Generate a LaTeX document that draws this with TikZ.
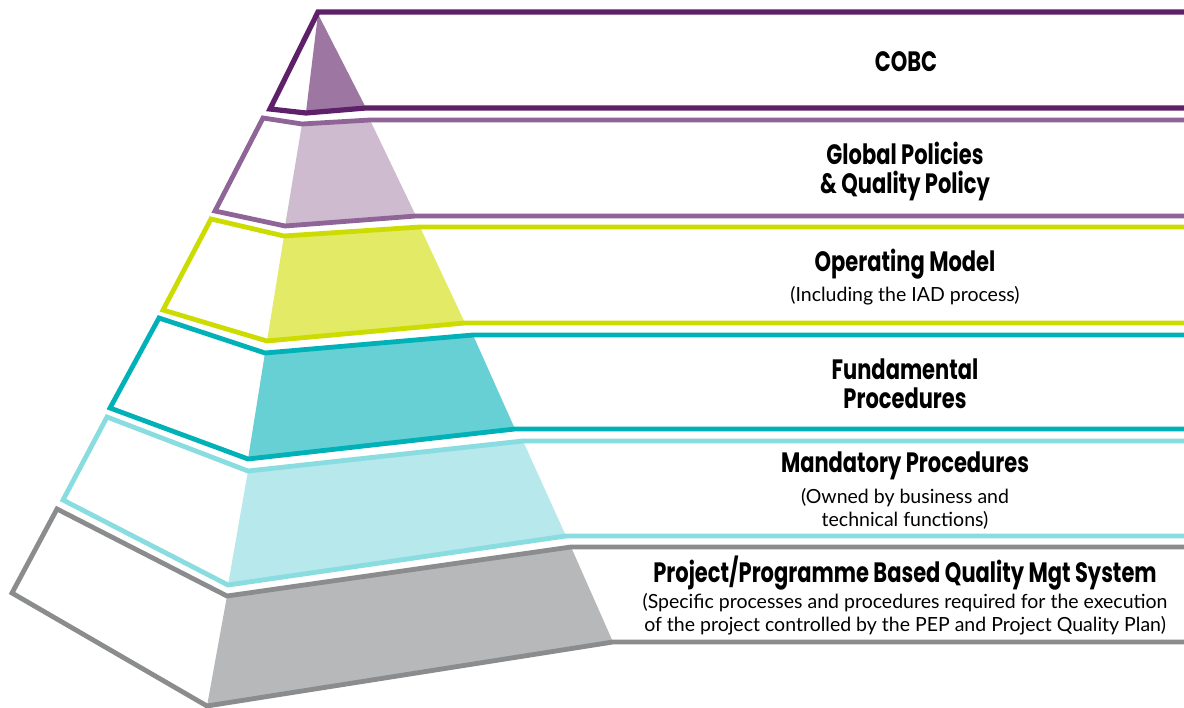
\documentclass[tikz,border=0pt]{standalone}
\usepackage{fontspec}
\setmainfont{Lato}
\newfontfamily\handfont{Poppins}[FakeStretch=0.75]
\definecolor{lnA}{HTML}{5E2068}\definecolor{flA}{HTML}{9D77A2}
\definecolor{lnB}{HTML}{8F6597}\definecolor{flB}{HTML}{CFBBD0}
\definecolor{lnC}{HTML}{CDDC00}\definecolor{flC}{HTML}{E2EA66}
\definecolor{lnD}{HTML}{00B1B8}\definecolor{flD}{HTML}{67D0D5}
\definecolor{lnE}{HTML}{89DCDF}\definecolor{flE}{HTML}{B7E8EB}
\definecolor{lnF}{HTML}{8B8C8E}\definecolor{flF}{HTML}{B7B8BA}
\tikzset{
  tier/.style={line width=4.8pt, line join=miter},
  title/.style={font=\handfont\bfseries\fontsize{28}{29}\selectfont, align=center, inner sep=0pt},
  sub/.style={font=\fontsize{19.5}{23}\selectfont, align=center, inner sep=0pt}
}
\begin{document}
\begin{tikzpicture}[x=1pt,y=-1pt]
\useasboundingbox (0,0) rectangle (1184,708);
\fill[white] (0,0) rectangle (1184,708);
% fills
\fill[flA] (318,14) -- (306,112) -- (366,108) -- cycle;
\fill[flB] (302,124) -- (370,120) -- (416,216) -- (285,226) -- cycle;
\fill[flC] (284,236) -- (420,227) -- (465,323) -- (267,341) -- cycle;
\fill[flD] (265,353) -- (473,335) -- (515,429) -- (248,459) -- cycle;
\fill[flE] (248,471) -- (523,441) -- (566,536) -- (228,585) -- cycle;
\fill[flF] (227,596) -- (571,547) -- (613,642) -- (207,706) -- cycle;
% outlines
\draw[tier, lnA, line width=5.2pt] (1190,12) -- (318,12) -- (270,109) -- (306,113) -- (366,108) -- (1190,108);
\draw[tier, lnB] (1190,120) -- (370,120) -- (302,124) -- (263,118) -- (215,211) -- (285,226) -- (416,216) -- (1190,216);
\draw[tier, lnC] (1190,227) -- (420,227) -- (284,236) -- (211,219) -- (163,310) -- (267,341) -- (465,323) -- (1190,323);
\draw[tier, lnD] (1190,335) -- (473,335) -- (265,353) -- (159,318) -- (110,408) -- (248,459) -- (515,429) -- (1190,429);
\draw[tier, lnE] (1190,441) -- (523,441) -- (248,471) -- (107,417) -- (63,500) -- (228,585) -- (566,536) -- (1190,536);
\draw[tier, lnF] (1190,547) -- (571,547) -- (227,596) -- (57,509) -- (12,593) -- (207,706) -- (613,642) -- (1190,642);
% texts
\node[title] (t1) at (906,62) {COBC};
\node[title] (t2) at (905,171) {Global Policies\\\& Quality Policy};
\node[title] (t3) at (905,264) {Operating Model};
\node[sub] (s3) at (905,296) {(Including the IAD process)};
\node[title] (t4) at (905,384) {Fundamental\\Procedures};
\node[title] (t5) at (905,466) {Mandatory Procedures};
\node[sub] (s5) at (905,509) {(Owned by business and\\technical functions)};
\node[title] (t6) at (905,573) {Project/Programme Based Quality Mgt System};
\node[sub] (s6) at (905,614) {(Specific processes and procedures required for the execution\\of the project controlled by the PEP and Project Quality Plan)};
\end{tikzpicture}
\end{document}
